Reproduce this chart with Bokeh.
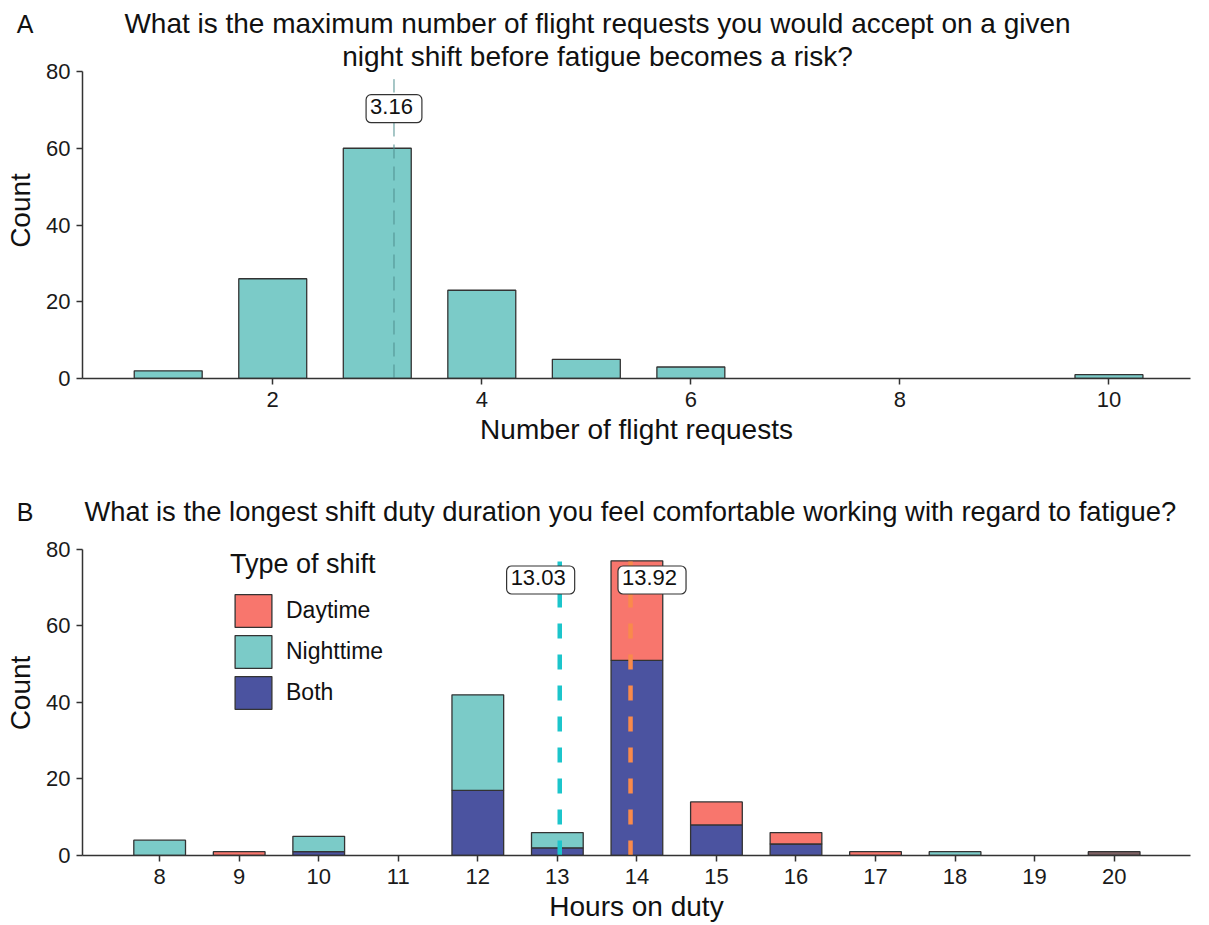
from bokeh.plotting import figure
from bokeh.layouts import column
from bokeh.models import Label, Legend, LegendItem, Range1d, FixedTicker, ColumnDataSource
from bokeh.core.properties import value
from bokeh.embed import file_html
from bokeh.resources import INLINE

# ---- Panel A: maximum accepted flight requests per night shift ----
requests = [1, 2, 3, 4, 5, 6, 10]
request_counts = [2, 26, 60, 23, 5, 3, 1]
request_mean = [3.16]

# ---- Panel B: longest comfortable shift duration ----
hours = [8, 9, 10, 11, 12, 13, 14, 15, 16, 17, 18, 19, 20]
both = [0, 0, 1, 0, 17, 2, 51, 8, 3, 0, 0, 0, 0]
nighttime = [4, 0, 4, 0, 25, 4, 0, 0, 0, 0, 1, 0, 0]
daytime = [0, 1, 0, 0, 0, 0, 26, 6, 3, 1, 0, 0, 0]
overlap = [0, 0, 0, 0, 0, 0, 0, 0, 0, 0, 0, 0, 1]
shift_means = [13.03, 13.92]
shift_mean_labels = ["13.03", "13.92"]

FONT = "Liberation Sans"
TEAL = "#7BCBC8"
RED = "#F8766D"
NAVY = "#4B53A0"
OUTLINE = "#333333"
INK = "#111111"
W = 1209
LEFT, RIGHT = 82, 19
TITLE_SIZE = "28px"


def header(height, top, letter):
    # strip holding a panel letter (as a horizontal axis label) and the question text;
    # data coordinates equal pixel coordinates of the strip
    h = figure(width=W, height=height, output_backend="svg", toolbar_location=None,
               x_range=Range1d(LEFT, W - RIGHT), y_range=Range1d(height, top),
               x_axis_location=None, min_border_left=LEFT, min_border_right=RIGHT,
               min_border_top=top, min_border_bottom=0, outline_line_color=None)
    h.xgrid.visible = False
    h.ygrid.visible = False
    ax = h.yaxis[0]
    ax.ticker = FixedTicker(ticks=[])
    ax.axis_line_color = None
    ax.major_tick_line_color = None
    ax.minor_tick_line_color = None
    ax.major_label_text_font_size = "0px"
    ax.axis_label = letter
    ax.axis_label_orientation = "horizontal"
    ax.axis_label_text_font = FONT
    ax.axis_label_text_font_size = "25px"
    ax.axis_label_text_font_style = "normal"
    ax.axis_label_text_color = INK
    ax.axis_label_standoff = 49
    return h


def head_text(h, x, y, text, align="left", size=TITLE_SIZE):
    h.text(x=[x], y=[y], text=[text], text_font=value(FONT), text_font_size=size,
           text_color=INK, text_align=align, text_baseline="middle")


def style(p, y_ticks):
    p.outline_line_color = None
    p.xgrid.visible = False
    p.ygrid.visible = False
    for ax in (p.xaxis[0], p.yaxis[0]):
        ax.axis_line_color = OUTLINE
        ax.axis_line_width = 1.5
        ax.major_tick_line_color = OUTLINE
        ax.major_tick_line_width = 1.5
        ax.major_tick_out = 6
        ax.major_tick_in = 0
        ax.minor_tick_line_color = None
        ax.major_label_text_font = FONT
        ax.major_label_text_font_size = "22px"
        ax.major_label_text_color = "#1a1a1a"
        ax.axis_label_text_font = FONT
        ax.axis_label_text_font_size = "28px"
        ax.axis_label_text_font_style = "normal"
        ax.axis_label_text_color = INK
    p.xaxis.major_label_standoff = 7
    p.xaxis.axis_label_standoff = 4
    p.yaxis.major_label_standoff = 6
    p.yaxis.axis_label_standoff = 7
    p.yaxis.ticker = FixedTicker(ticks=y_ticks)
    p.yaxis.bounds = (min(y_ticks), max(y_ticks))
    p.yaxis.axis_label = "Count"


def mean_tag(p, source, x, y):
    p.text(x=x, y=y, text="lab", source=source,
           text_font=value(FONT), text_font_size="22px", text_color=INK,
           text_align="center", text_baseline="middle",
           background_fill_color="white", border_line_color=OUTLINE, border_line_width=1.2,
           padding=[4, 9, 4, 9], border_radius=5)


count_ticks = [0, 20, 40, 60, 80]

# ---------------- Panel A ----------------
ha = header(42, 4, "A")
head_text(ha, 597, 23, "What is the maximum number of flight requests you would accept on a given",
          align="center")

frame_a = 336
pa = figure(width=W, height=428, output_backend="svg", toolbar_location=None,
            x_range=Range1d(0.18, 10.78), y_range=Range1d(0, 80 * frame_a / 307),
            min_border_left=LEFT, min_border_right=RIGHT, min_border_top=0, min_border_bottom=92)
style(pa, count_ticks)
pa.xaxis.ticker = FixedTicker(ticks=[2, 4, 6, 8, 10])
pa.xaxis.axis_label = "Number of flight requests"

pa.vbar(x=requests, top=request_counts, width=0.65, bottom=0,
        fill_color=TEAL, line_color=OUTLINE, line_width=1.3)

mean_a = ColumnDataSource(dict(x=request_mean, lab=[f"{m:.2f}" for m in request_mean]))
pa.segment(x0="x", x1="x", y0=0, y1=78, source=mean_a,
           line_color="#4f8f8f", line_width=1, line_dash="14 8")
mean_tag(pa, mean_a, "x", 70.3)

pa.add_layout(Label(x=597 - LEFT, y=frame_a - 14, x_units="screen", y_units="screen",
                    text="night shift before fatigue becomes a risk?",
                    text_font=FONT, text_font_size=TITLE_SIZE, text_color=INK,
                    text_align="center", text_baseline="middle"))

# ---------------- Panel B ----------------
hb = header(60, 22, "B")
head_text(hb, 84, 41, "What is the longest shift duty duration you feel comfortable working with regard to fatigue?",
          size="27.4px")

frame_b = 327
pb = figure(width=W, height=394, output_backend="svg", toolbar_location=None,
            x_range=Range1d(7.03, 20.96), y_range=Range1d(0, 80 * frame_b / 308),
            min_border_left=LEFT, min_border_right=RIGHT, min_border_top=0, min_border_bottom=67)
style(pb, count_ticks)
pb.xaxis.ticker = FixedTicker(ticks=hours)
pb.xaxis.axis_label = "Hours on duty"

# stack Both at the bottom, then Nighttime, then Daytime; skip empty segments
renderers = {}
base = [0] * len(hours)
for name, counts, color in (("Both", both, NAVY), ("Nighttime", nighttime, TEAL),
                            ("Daytime", daytime, RED), ("overlap", overlap, "#7E6264")):
    if name == "overlap":
        start = [0] * len(hours)
    else:
        start = list(base)
        base = [b + c for b, c in zip(base, counts)]
    keep = [i for i, c in enumerate(counts) if c > 0]
    src = ColumnDataSource(dict(x=[hours[i] for i in keep],
                                bottom=[start[i] for i in keep],
                                top=[start[i] + counts[i] for i in keep]))
    renderers[name] = pb.vbar(x="x", bottom="bottom", top="top", width=0.65, source=src,
                              fill_color=color, line_color=OUTLINE, line_width=1.3)

mean_b = ColumnDataSource(dict(x=shift_means, lab=shift_mean_labels,
                               color=["#1CC5CB", "#F98A4B"],
                               lx=[shift_means[0] - 0.24, shift_means[1] + 0.27]))
pb.segment(x0="x", x1="x", y0=0, y1=78, source=mean_b,
           line_color="color", line_width=4.5, line_dash="15 16")
mean_tag(pb, mean_b, "lx", 72)

legend = Legend(items=[LegendItem(label=n, renderers=[renderers[n]])
                       for n in ("Daytime", "Nighttime", "Both")],
                title="Type of shift", location=(148, 142),
                glyph_width=46, glyph_height=41, spacing=0, padding=0, margin=0,
                label_text_font=FONT, label_text_font_size="23px", label_standoff=10,
                label_text_color=INK,
                title_text_font=FONT, title_text_font_size="27px", title_text_font_style="normal",
                title_text_color=INK, title_standoff=10,
                border_line_color=None, background_fill_alpha=0)
pb.add_layout(legend)

layout = column(ha, pa, hb, pb, spacing=0)
open("out.html", "w").write(file_html(layout, INLINE))
